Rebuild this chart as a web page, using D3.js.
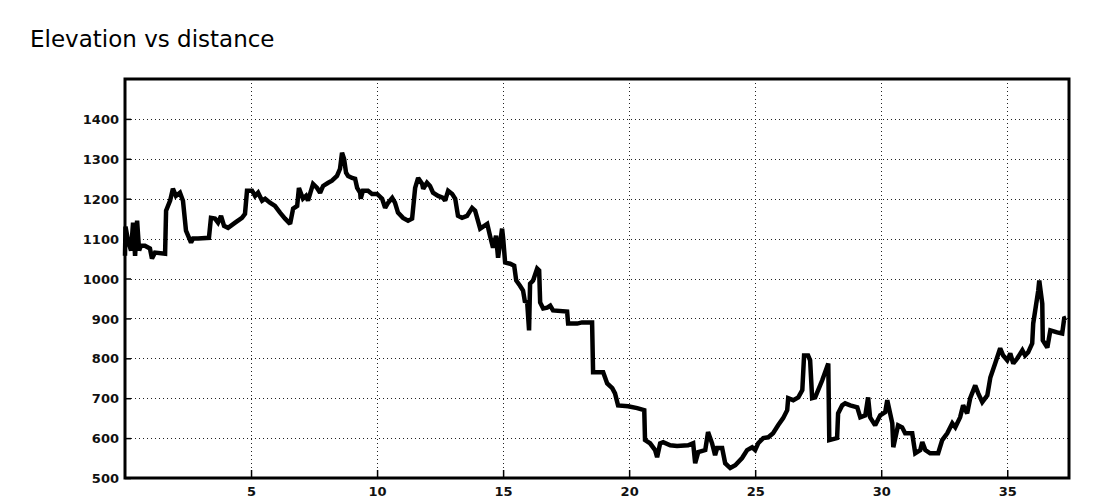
<!DOCTYPE html>
<html>
<head>
<meta charset="utf-8">
<script src="https://cdn.jsdelivr.net/npm/d3@7/dist/d3.min.js"></script>
<style>
  html, body { margin: 0; padding: 0; background: #fff; }
  svg { display: block; }
  .tick-label { font-family: "DejaVu Sans", Verdana, sans-serif; font-weight: bold; font-size: 13px; fill: #111; }
  .title { font-family: "DejaVu Sans", sans-serif; font-size: 23px; fill: #000; }
</style>
</head>
<body>
<svg id="chart" width="1100" height="500"></svg>
<script>
const title = "Elevation vs distance";

// distance in km
const distance = [
  0.00, 0.02, 0.12, 0.24, 0.32, 0.40, 0.48, 0.56, 0.63, 0.79, 0.99, 1.07, 1.19, 1.59, 1.63, 1.79,
  1.90, 2.02, 2.18, 2.30, 2.42, 2.62, 2.70, 2.90, 3.33, 3.41, 3.57, 3.69, 3.81, 3.93, 4.09, 4.37,
  4.64, 4.76, 4.84, 5.04, 5.16, 5.28, 5.44, 5.56, 5.75, 5.95, 6.15, 6.35, 6.55, 6.67, 6.83, 6.90,
  7.06, 7.18, 7.26, 7.46, 7.62, 7.74, 7.86, 8.06, 8.21, 8.41, 8.53, 8.61, 8.69, 8.77, 8.85, 9.01,
  9.13, 9.21, 9.33, 9.35, 9.44, 9.64, 9.80, 10.00, 10.20, 10.32, 10.44, 10.60, 10.71, 10.83, 11.03, 11.23,
  11.39, 11.51, 11.63, 11.79, 11.83, 11.98, 12.10, 12.22, 12.42, 12.62, 12.70, 12.82, 12.98, 13.10, 13.21, 13.37,
  13.57, 13.77, 13.89, 13.97, 14.09, 14.37, 14.48, 14.60, 14.72, 14.80, 14.96, 15.00, 15.08, 15.28, 15.44, 15.52,
  15.67, 15.79, 15.87, 15.95, 16.03, 16.07, 16.19, 16.35, 16.43, 16.47, 16.59, 16.75, 16.87, 16.98, 17.54, 17.58,
  17.94, 18.13, 18.53, 18.57, 18.97, 19.13, 19.33, 19.44, 19.56, 19.96, 20.32, 20.60, 20.63, 20.83, 21.03, 21.11,
  21.23, 21.35, 21.63, 21.90, 22.34, 22.54, 22.62, 22.74, 23.02, 23.13, 23.29, 23.41, 23.49, 23.69, 23.81, 24.01,
  24.21, 24.48, 24.68, 24.88, 25.00, 25.12, 25.32, 25.52, 25.71, 25.91, 26.11, 26.27, 26.31, 26.51, 26.71, 26.87,
  26.94, 27.10, 27.18, 27.26, 27.38, 27.66, 27.90, 27.94, 28.25, 28.29, 28.45, 28.57, 28.77, 29.05, 29.17, 29.37,
  29.48, 29.56, 29.76, 29.96, 30.16, 30.24, 30.44, 30.48, 30.67, 30.83, 30.95, 31.23, 31.35, 31.55, 31.63, 31.75,
  31.94, 32.26, 32.42, 32.62, 32.82, 32.94, 33.13, 33.25, 33.41, 33.53, 33.73, 33.85, 34.01, 34.21, 34.33, 34.52,
  34.72, 34.84, 35.00, 35.12, 35.24, 35.40, 35.60, 35.71, 35.83, 35.99, 36.03, 36.11, 36.23, 36.27, 36.39, 36.41,
  36.59, 36.71, 36.98, 37.18, 37.26, 37.34
];

// elevation in m
const elevation = [
  1057, 1130, 1095, 1070, 1140, 1057, 1145, 1070, 1082, 1082, 1075, 1050, 1065, 1062, 1170, 1195,
  1225, 1207, 1215, 1195, 1120, 1090, 1100, 1100, 1102, 1152, 1150, 1140, 1157, 1132, 1127, 1140,
  1152, 1162, 1220, 1220, 1207, 1215, 1195, 1200, 1190, 1182, 1165, 1150, 1137, 1175, 1182, 1227,
  1200, 1207, 1195, 1237, 1227, 1215, 1232, 1240, 1245, 1257, 1275, 1315, 1300, 1265, 1257, 1252,
  1250, 1227, 1215, 1200, 1220, 1220, 1212, 1212, 1200, 1177, 1190, 1202, 1190, 1165, 1152, 1145,
  1150, 1227, 1252, 1237, 1225, 1240, 1232, 1215, 1207, 1202, 1195, 1220, 1212, 1200, 1157, 1152,
  1157, 1177, 1170, 1152, 1125, 1137, 1107, 1077, 1107, 1052, 1125, 1102, 1040, 1037, 1032, 995,
  982, 970, 940, 945, 870, 987, 995, 1025, 1020, 940, 925, 927, 932, 920, 917, 887,
  887, 890, 890, 765, 765, 737, 725, 712, 682, 680, 675, 670, 595, 587, 570, 552,
  587, 590, 582, 580, 582, 587, 537, 565, 570, 615, 587, 557, 575, 575, 537, 525,
  532, 550, 570, 577, 570, 587, 600, 602, 612, 632, 650, 670, 700, 695, 702, 720,
  807, 807, 795, 700, 702, 745, 787, 595, 600, 662, 682, 687, 682, 677, 652, 657,
  702, 652, 632, 657, 665, 695, 637, 577, 632, 627, 612, 612, 562, 570, 590, 570,
  562, 562, 595, 612, 637, 627, 652, 682, 662, 700, 732, 712, 690, 707, 752, 787,
  825, 807, 795, 812, 787, 800, 820, 807, 815, 837, 887, 920, 970, 995, 937, 845,
  827, 870, 865, 862, 900, 902
];

const xTicks = [5, 10, 15, 20, 25, 30, 35];
const yTicks = [500, 600, 700, 800, 900, 1000, 1100, 1200, 1300, 1400];
const xDomain = [0, 37.45];
const yDomain = [500, 1500];

const svg = d3.select("#chart");
const plotLeft = 125, plotRight = 1069, plotTop = 79, plotBottom = 478;

const x = d3.scaleLinear().domain(xDomain).range([plotLeft, plotRight]);
const y = d3.scaleLinear().domain(yDomain).range([plotBottom, plotTop]);

svg.append("text").attr("class", "title")
  .attr("x", 30).attr("y", 47).text(title);

// grid
const grid = svg.append("g");
grid.selectAll(".hg").data(yTicks.filter(v => v > yDomain[0])).join("line")
  .attr("x1", plotLeft + 6).attr("x2", plotRight)
  .attr("y1", d => Math.round(y(d)) + 0.5).attr("y2", d => Math.round(y(d)) + 0.5)
  .attr("stroke", "#222").attr("stroke-width", 1).attr("stroke-dasharray", "1,3");
grid.selectAll(".vg").data(xTicks).join("line")
  .attr("x1", d => Math.round(x(d)) + 0.5).attr("x2", d => Math.round(x(d)) + 0.5)
  .attr("y1", plotTop).attr("y2", plotBottom - 8)
  .attr("stroke", "#222").attr("stroke-width", 1).attr("stroke-dasharray", "1,3");

// axes with d3
const xAxis = d3.axisBottom(x).tickValues(xTicks).tickSize(-8).tickPadding(11).tickFormat(d3.format("d"));
const yAxis = d3.axisLeft(y).tickValues(yTicks).tickSize(-6).tickPadding(6).tickFormat(d3.format("d"));

const gx = svg.append("g").attr("transform", `translate(0,${plotBottom})`).call(xAxis);
const gy = svg.append("g").attr("transform", `translate(${plotLeft},0)`).call(yAxis);
[gx, gy].forEach(g => {
  g.select(".domain").remove();
  g.selectAll(".tick line").attr("stroke", "#000").attr("stroke-width", 1.5);
  g.selectAll(".tick text").attr("class", "tick-label").attr("fill", "#111");
});
gx.selectAll(".tick text").attr("dy", "0.5em");
gy.selectAll(".tick text").attr("dy", "0.36em");

// line
const line = d3.line().x((d, i) => x(distance[i])).y((d, i) => y(elevation[i]));
svg.append("path").datum(elevation)
  .attr("d", line)
  .attr("fill", "none").attr("stroke", "#000").attr("stroke-width", 4.5)
  .attr("stroke-linejoin", "miter").attr("stroke-miterlimit", 2);

// frame
svg.append("rect")
  .attr("x", plotLeft).attr("y", plotTop).attr("width", plotRight - plotLeft).attr("height", plotBottom - plotTop)
  .attr("fill", "none").attr("stroke", "#000").attr("stroke-width", 3);
</script>
</body>
</html>
